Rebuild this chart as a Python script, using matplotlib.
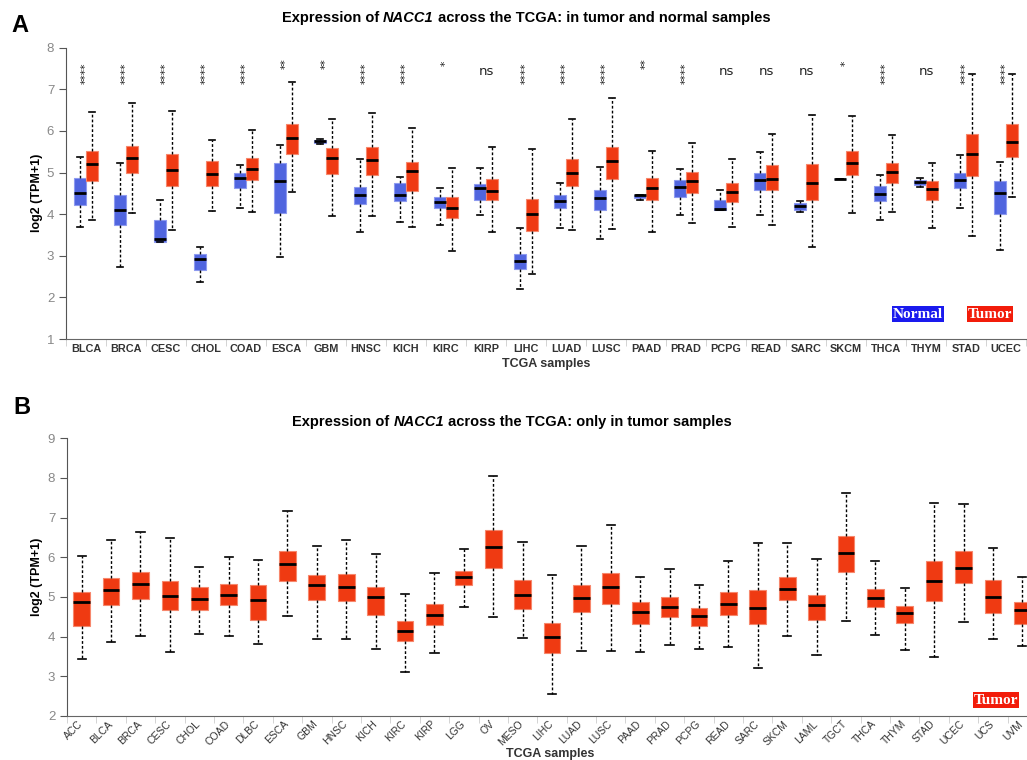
import matplotlib
matplotlib.use('Agg')
import matplotlib.pyplot as plt
import matplotlib.transforms as mtransforms
import numpy as np

# ---- panel A: tumor vs normal ----
a_cancers = ['BLCA', 'BRCA', 'CESC', 'CHOL', 'COAD', 'ESCA', 'GBM', 'HNSC', 'KICH', 'KIRC', 'KIRP', 'LIHC',
             'LUAD', 'LUSC', 'PAAD', 'PRAD', 'PCPG', 'READ', 'SARC', 'SKCM', 'THCA', 'THYM', 'STAD', 'UCEC']
a_signif = ['****', '****', '****', '****', '****', '**', '**', '****', '****', '*', 'ns', '****',
            '****', '****', '**', '****', 'ns', 'ns', 'ns', '*', '****', 'ns', '****', '****']

# normal: whisker low, q1, median, q3, whisker high
n_lo = [3.70, 2.73, 3.33, 2.36, 4.14, 2.96, 5.69, 3.56, 3.82, 3.73, 3.98, 2.20,
        3.66, 3.40, 4.34, 3.98, 4.11, 3.98, 4.06, 4.84, 3.87, 4.65, 4.14, 3.13]
n_q1 = [4.21, 3.74, 3.34, 2.66, 4.62, 4.02, 5.71, 4.24, 4.32, 4.15, 4.35, 2.68,
        4.15, 4.09, 4.39, 4.42, 4.11, 4.59, 4.10, 4.84, 4.31, 4.71, 4.64, 4.01]
n_med = [4.50, 4.10, 3.41, 2.92, 4.88, 4.80, 5.75, 4.45, 4.47, 4.29, 4.62, 2.88,
         4.31, 4.38, 4.45, 4.65, 4.13, 4.83, 4.20, 4.84, 4.49, 4.77, 4.81, 4.50]
n_q3 = [4.86, 4.46, 3.87, 3.04, 4.98, 5.22, 5.79, 4.66, 4.74, 4.41, 4.73, 3.05,
        4.45, 4.57, 4.47, 4.82, 4.35, 4.98, 4.27, 4.84, 4.67, 4.82, 4.98, 4.80]
n_hi = [5.37, 5.24, 4.34, 3.20, 5.17, 5.67, 5.80, 5.33, 4.90, 4.63, 5.12, 3.67,
        4.75, 5.14, 4.47, 5.08, 4.57, 5.49, 4.31, 4.84, 4.93, 4.88, 5.43, 5.25]

# tumor
t_lo = [3.85, 4.02, 3.61, 4.07, 4.04, 4.53, 3.96, 3.96, 3.69, 3.12, 3.58, 2.55,
        3.63, 3.65, 3.58, 3.79, 3.69, 3.73, 3.22, 4.02, 4.05, 3.66, 3.48, 4.41]
t_q1 = [4.80, 4.98, 4.68, 4.67, 4.83, 5.44, 4.96, 4.93, 4.56, 3.90, 4.33, 3.60,
        4.67, 4.85, 4.33, 4.51, 4.29, 4.58, 4.33, 4.93, 4.74, 4.35, 4.91, 5.38]
t_med = [5.20, 5.36, 5.05, 4.96, 5.08, 5.82, 5.34, 5.29, 5.04, 4.15, 4.56, 4.01,
         4.99, 5.28, 4.64, 4.79, 4.54, 4.85, 4.75, 5.22, 5.01, 4.60, 5.45, 5.73]
t_q3 = [5.52, 5.63, 5.44, 5.27, 5.36, 6.17, 5.58, 5.61, 5.25, 4.41, 4.84, 4.36,
        5.32, 5.61, 4.88, 5.02, 4.74, 5.17, 5.20, 5.51, 5.23, 4.80, 5.93, 6.17]
t_hi = [6.45, 6.66, 6.49, 5.78, 6.02, 7.18, 6.28, 6.43, 6.06, 5.10, 5.61, 5.57,
        6.28, 6.79, 5.51, 5.71, 5.33, 5.92, 6.39, 6.35, 5.90, 5.24, 7.37, 7.36]

# ---- panel B: tumor only ----
b_cancers = ['ACC', 'BLCA', 'BRCA', 'CESC', 'CHOL', 'COAD', 'DLBC', 'ESCA', 'GBM', 'HNSC', 'KICH',
             'KIRC', 'KIRP', 'LGG', 'OV', 'MESO', 'LIHC', 'LUAD', 'LUSC', 'PAAD', 'PRAD', 'PCPG',
             'READ', 'SARC', 'SKCM', 'LAML', 'TGCT', 'THCA', 'THYM', 'STAD', 'UCEC', 'UCS', 'UVM']
b_lo = [3.43, 3.87, 4.01, 3.61, 4.06, 4.02, 3.82, 4.51, 3.95, 3.95, 3.69,
        3.12, 3.58, 4.75, 4.49, 3.97, 2.55, 3.65, 3.65, 3.61, 3.80, 3.69,
        3.73, 3.20, 4.01, 3.53, 4.40, 4.04, 3.66, 3.49, 4.38, 3.95, 3.76]
b_q1 = [4.27, 4.80, 4.96, 4.66, 4.66, 4.81, 4.41, 5.41, 4.93, 4.91, 4.55,
        3.90, 4.30, 5.29, 5.74, 4.70, 3.60, 4.63, 4.83, 4.31, 4.50, 4.27,
        4.55, 4.31, 4.92, 4.41, 5.62, 4.74, 4.34, 4.89, 5.34, 4.59, 4.31]
b_med = [4.87, 5.18, 5.33, 5.03, 4.94, 5.05, 4.92, 5.82, 5.31, 5.24, 5.00,
         4.14, 4.55, 5.50, 6.26, 5.05, 4.00, 4.98, 5.26, 4.63, 4.76, 4.53,
         4.83, 4.72, 5.20, 4.79, 6.12, 4.98, 4.60, 5.41, 5.72, 5.01, 4.66]
b_q3 = [5.12, 5.47, 5.64, 5.40, 5.26, 5.32, 5.29, 6.17, 5.56, 5.58, 5.24,
        4.39, 4.82, 5.66, 6.69, 5.42, 4.34, 5.29, 5.61, 4.87, 4.99, 4.71,
        5.12, 5.18, 5.50, 5.06, 6.53, 5.21, 4.78, 5.90, 6.17, 5.43, 4.88]
b_hi = [6.04, 6.44, 6.63, 6.48, 5.76, 6.01, 5.94, 7.18, 6.29, 6.44, 6.08,
        5.08, 5.61, 6.21, 8.06, 6.39, 5.55, 6.29, 6.81, 5.50, 5.71, 5.29,
        5.90, 6.37, 6.35, 5.97, 7.61, 5.90, 5.23, 7.38, 7.35, 6.23, 5.50]

W, H = 1027, 760
NORMAL = '#5065df'
NORMAL_EDGE = '#8d9af0'
TUMOR = '#ef3a12'
TUMOR_EDGE = '#f7876c'
TEXT_GRAY = '#333333'

plt.rcParams['font.family'] = ['Liberation Sans', 'DejaVu Sans']


def px(x, y):
    # pixel (from top-left) -> figure fraction
    return x / W, 1 - y / H


def make_stats(lo, q1, med, q3, hi):
    return [dict(whislo=a, q1=b, med=c, q3=d, whishi=e) for a, b, c, d, e in zip(lo, q1, med, q3, hi)]


def draw_boxes(ax, stats, pos, width, face, edge, capw):
    ax.bxp(stats, positions=pos, widths=width, capwidths=capw, showfliers=False, patch_artist=True,
           boxprops=dict(facecolor=face, edgecolor=edge, linewidth=0.8),
           whiskerprops=dict(color='black', linestyle=(0, (2, 1.5)), linewidth=1.0),
           capprops=dict(color='black', linewidth=1.2),
           medianprops=dict(color='black', linewidth=2.0, solid_capstyle='butt'),
           manage_ticks=False)


def style_axes(ax, n):
    for s in ['top', 'right']:
        ax.spines[s].set_visible(False)
    ax.spines['left'].set_color('#555555')
    ax.spines['bottom'].set_color('#666666')
    ax.tick_params(axis='y', colors='#555555', labelcolor='#888888', labelsize=9.5, length=5)
    ax.set_xlim(-0.5, n - 0.5)
    ax.set_xticks(np.arange(n + 1) - 0.5, minor=True)
    ax.tick_params(axis='x', which='minor', length=5, color='#cccccc')
    ax.tick_params(axis='x', which='major', length=0)


def mixed_title(fig, cx, cy, parts, size):
    renderer = fig.canvas.get_renderer()
    items = []
    for s, style in parts:
        t = fig.text(0, 0, s, fontsize=size, fontweight='bold', style=style, va='center', ha='left')
        items.append((t, t.get_window_extent(renderer).width))
    total = sum(w for _, w in items)
    x = cx - total / 2
    for t, w in items:
        t.set_position(px(x, cy))
        x += w


fig = plt.figure(figsize=(W / 100, H / 100), dpi=100)

# ---------------- panel A ----------------
axA = fig.add_axes([66 / W, 1 - 339 / H, 960 / W, (339 - 47.7) / H])
nA = len(a_cancers)
xa = np.arange(nA)
draw_boxes(axA, make_stats(n_lo, n_q1, n_med, n_q3, n_hi), xa - 0.15, 0.28, NORMAL, NORMAL_EDGE, 0.13)
draw_boxes(axA, make_stats(t_lo, t_q1, t_med, t_q3, t_hi), xa + 0.15, 0.28, TUMOR, TUMOR_EDGE, 0.13)
style_axes(axA, nA)
axA.set_ylim(1, 8)
axA.set_yticks(range(1, 9))
axA.set_xticks(xa)
axA.set_xticklabels(a_cancers, fontsize=7.8, fontweight='bold', color=TEXT_GRAY)
axA.tick_params(axis='x', which='major', pad=3.5)

star_y = {'****': 7.38, '**': 7.62, '*': 7.62}
for i, s in enumerate(a_signif):
    if s == 'ns':
        axA.text(i, 7.42, s, ha='center', va='center', fontsize=9.5, family='DejaVu Sans', color='#222222')
    else:
        axA.text(i, star_y[s], s, ha='center', va='center', rotation=90, fontsize=7.8,
                 family='DejaVu Sans', color='#222222')

fig.text(*px(37, 193), 'log2 (TPM+1)', rotation=90, ha='center', va='center', fontsize=9, fontweight='bold')
fig.text(*px(546, 364), 'TCGA samples', ha='center', va='center', fontsize=9, fontweight='bold', color=TEXT_GRAY)
mixed_title(fig, 526, 18, [('Expression of ', 'normal'), ('NACC1', 'italic'),
                           (' across the TCGA: in tumor and normal samples', 'normal')], 10.5)
fig.text(*px(20, 25), 'A', ha='center', va='center', fontsize=17, fontweight='bold')

fig.text(*px(918, 314), 'Normal', ha='center', va='center', fontsize=11, fontweight='bold',
         family='Liberation Serif', color='white',
         bbox=dict(boxstyle='square,pad=0.08', facecolor='#1a1aee', edgecolor='none'))
fig.text(*px(990, 314), 'Tumor', ha='center', va='center', fontsize=11, fontweight='bold',
         family='Liberation Serif', color='white',
         bbox=dict(boxstyle='square,pad=0.08', facecolor='#f21c0a', edgecolor='none'))

# ---------------- panel B ----------------
axB = fig.add_axes([67 / W, 1 - 716 / H, 970 / W, (716 - 438.3) / H])
nB = len(b_cancers)
xb = np.arange(nB)
draw_boxes(axB, make_stats(b_lo, b_q1, b_med, b_q3, b_hi), xb, 0.57, TUMOR, TUMOR_EDGE, 0.28)
style_axes(axB, nB)
axB.set_ylim(2, 9)
axB.set_yticks(range(2, 10))
axB.set_xticks(xb)
axB.set_xticklabels(b_cancers, fontsize=7.5, color=TEXT_GRAY, rotation=45, ha='right',
                    rotation_mode='anchor')
axB.tick_params(axis='x', which='major', pad=2)
shift = mtransforms.ScaledTranslation(-4 / 100, 0, fig.dpi_scale_trans)
for lab in axB.get_xticklabels():
    lab.set_transform(lab.get_transform() + shift)

fig.text(*px(37, 577), 'log2 (TPM+1)', rotation=90, ha='center', va='center', fontsize=9, fontweight='bold')
fig.text(*px(550, 760), 'TCGA samples', ha='center', va='bottom', fontsize=9, fontweight='bold', color=TEXT_GRAY)
mixed_title(fig, 512, 422, [('Expression of ', 'normal'), ('NACC1', 'italic'),
                            (' across the TCGA: only in tumor samples', 'normal')], 10.5)
fig.text(*px(22, 407), 'B', ha='center', va='center', fontsize=17, fontweight='bold')

fig.text(*px(996, 700), 'Tumor', ha='center', va='center', fontsize=11, fontweight='bold',
         family='Liberation Serif', color='white',
         bbox=dict(boxstyle='square,pad=0.08', facecolor='#f21c0a', edgecolor='none'))

fig.savefig('out.png', dpi=100)
